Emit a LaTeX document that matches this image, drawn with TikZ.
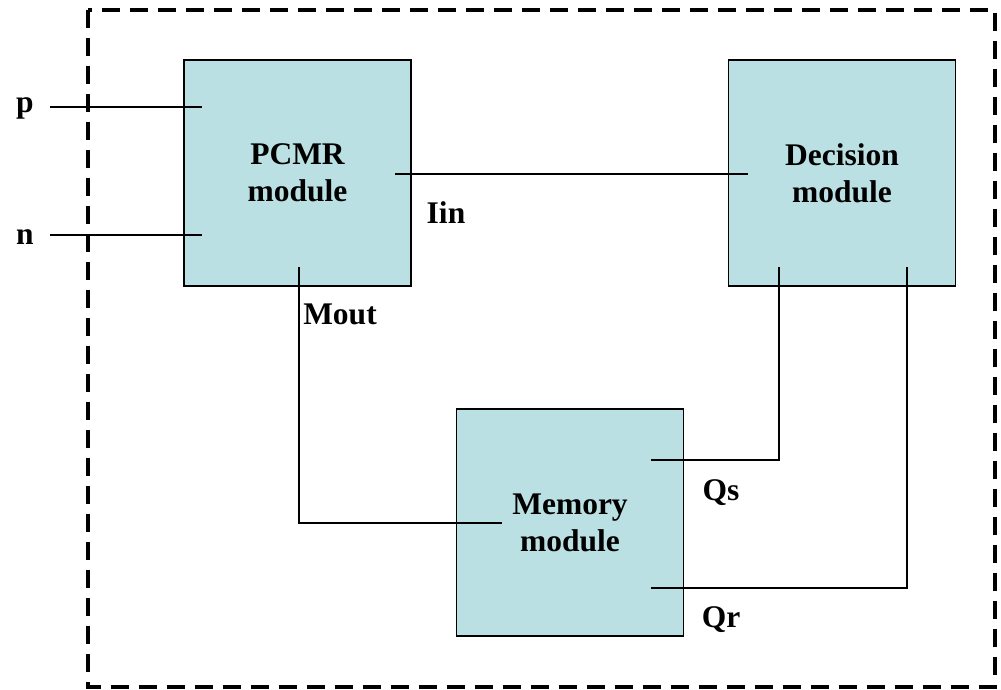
\documentclass[tikz,border=0pt]{standalone}
\usepackage{fontspec}
\setmainfont{Liberation Serif}
\usetikzlibrary{calc}

\definecolor{modfill}{HTML}{BAE0E3}
\tikzset{module/.style={draw,fill=modfill,line width=1.8pt,minimum width=227pt,minimum height=226pt,align=center,font=\fontsize{31.5}{37}\selectfont\bfseries},
         sig/.style={font=\fontsize{31.5}{37}\selectfont\bfseries,inner sep=0pt},
         wire/.style={line width=1.7pt}}

\begin{document}
\begin{tikzpicture}[x=1pt,y=-1pt]
\useasboundingbox (0,0) rectangle (1001,690);
\draw[line width=3.5pt,dash pattern=on 18pt off 10pt] (88,10) rectangle (995,687);
\node[module](pcmr) at (297.5,173){PCMR\\module};
\node[module](dec) at (842,173){Decision\\module};
\node[module,minimum height=227pt](mem) at (570,522.5){Memory\\module};
\node[sig](p) at (25,108){p};
\node[sig](n) at (25,237){n};
\node[sig](iin) at (446,213){Iin};
\node[sig](mout) at (340,314){Mout};
\node[sig](qs) at (721,493){Qs};
\node[sig](qr) at (721,620){Qr};
\coordinate (pin) at (50,107);
\coordinate (pport) at (202,107);
\coordinate (nin) at (50,235);
\coordinate (nport) at (202,235);
\coordinate (iout) at (395,174);
\coordinate (iport) at (748,174);
\coordinate (mport) at (299,267);
\coordinate (minport) at (502,523);
\coordinate (sport) at (779,267);
\coordinate (qsport) at (651,460);
\coordinate (rport) at (907,267);
\coordinate (qrport) at (651,588);
\path[draw,wire] (pin)--(pport);
\path[draw,wire] (nin)--(nport);
\path[draw,wire] (iout)--(iport);
\path[draw,wire] (mport)|-(minport);
\path[draw,wire] (sport)|-(qsport);
\path[draw,wire] (rport)|-(qrport);
\end{tikzpicture}
\end{document}
